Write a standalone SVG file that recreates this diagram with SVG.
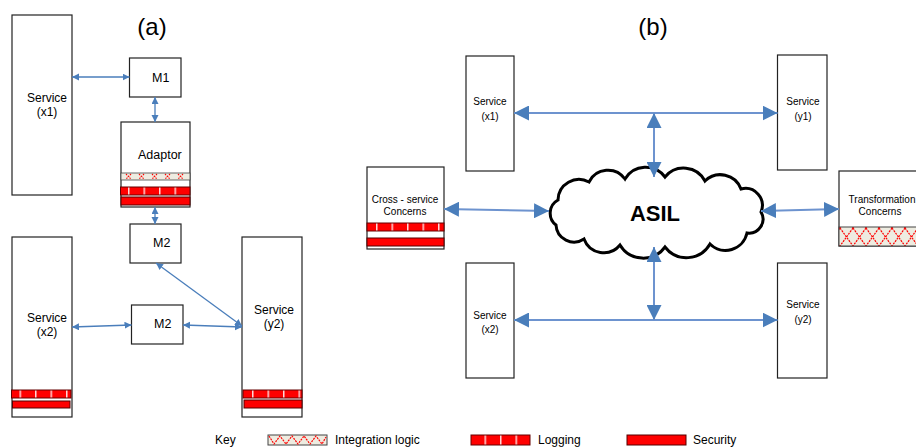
<svg xmlns="http://www.w3.org/2000/svg" width="916" height="448" viewBox="0 0 916 448">
<style>
text{font-family:"Liberation Sans",Arial,sans-serif;fill:#000}
.box{fill:#fff;stroke:#222;stroke-width:1.2}
.sa{font-size:12px;text-anchor:middle}
.sb{font-size:10px;text-anchor:middle}
.ca{stroke:#4a7ebb;stroke-width:1.3;fill:none;marker-start:url(#sm);marker-end:url(#sm)}
.cb{stroke:#6d93cf;stroke-width:2;fill:none;marker-start:url(#bm);marker-end:url(#bm)}
.log{fill:url(#logp);stroke:#600;stroke-width:1}
.sec{fill:#f00;stroke:#500;stroke-width:1}
</style>
<defs>
<marker id="sm" markerUnits="userSpaceOnUse" markerWidth="8" markerHeight="8" refX="7" refY="3.5" orient="auto-start-reverse"><path d="M0,0 L7,3.5 L0,7 z" fill="#4a7ebb"/></marker>
<marker id="bm" markerUnits="userSpaceOnUse" markerWidth="16" markerHeight="15" refX="15" refY="7.5" orient="auto-start-reverse"><path d="M0,0 L15,7.5 L0,15 z" fill="#4a7ebb"/></marker>
<pattern id="logp" patternUnits="userSpaceOnUse" width="15.5" height="10" x="4"><rect width="15.5" height="10" fill="#f00"/><rect x="0" width="1.5" height="10" fill="#ffd8d8"/></pattern>
<pattern id="intp" patternUnits="userSpaceOnUse" width="13" height="18" x="840" y="228"><rect width="13" height="18" fill="#eeece1"/><path d="M0,0 L13,18 M13,0 L0,18" stroke="#f00" stroke-width="1.2" stroke-dasharray="2 1"/></pattern>
<pattern id="ints" patternUnits="userSpaceOnUse" width="13" height="7" x="122" y="173"><rect width="13" height="7" fill="#eeece1"/><path d="M4,1 L9,6 M9,1 L4,6" stroke="#f00" stroke-width="1.1" stroke-dasharray="1.5 1"/></pattern>
</defs>

<!-- (a) -->
<text x="152" y="35" font-size="24" text-anchor="middle">(a)</text>
<g id="svc-x1-a"><rect class="box" x="12" y="15" width="60" height="180"/><text class="sa" x="47" y="102">Service</text><text class="sa" x="47" y="115.5">(x1)</text></g>
<g id="m1"><rect class="box" x="129.5" y="58" width="51.5" height="39"/><text x="152" y="82" font-size="12.5">M1</text></g>
<g id="adaptor"><rect class="box" x="121" y="122" width="69" height="85"/><text x="138" y="159" font-size="12.5">Adaptor</text>
<rect x="121" y="173" width="69" height="7" fill="url(#ints)" stroke="#444" stroke-width="0.8"/>
<rect class="log" x="120.5" y="187" width="69.5" height="8"/>
<rect class="sec" x="121" y="197" width="69" height="8"/></g>
<g id="m2-upper"><rect class="box" x="130" y="224" width="51" height="39"/><text x="153" y="247" font-size="12.5">M2</text></g>
<g id="m2-lower"><rect class="box" x="131.5" y="305" width="51.5" height="39"/><text x="154" y="328" font-size="12.5">M2</text></g>
<g id="svc-x2-a"><rect class="box" x="12" y="237" width="60" height="180"/><text class="sa" x="47" y="322">Service</text><text class="sa" x="47" y="335.5">(x2)</text>
<rect class="log" x="11.5" y="390" width="59.5" height="8"/><rect class="sec" x="12.5" y="401" width="57.5" height="7"/></g>
<g id="svc-y2-a"><rect class="box" x="242" y="237" width="60" height="180"/><text class="sa" x="274" y="314">Service</text><text class="sa" x="274" y="327.5">(y2)</text>
<rect class="log" x="243" y="390" width="59" height="8"/><rect class="sec" x="244" y="400" width="58" height="8"/></g>

<!-- (b) -->
<text x="653" y="35" font-size="24" text-anchor="middle">(b)</text>
<g id="svc-x1-b"><rect class="box" x="466" y="56" width="48" height="115"/><text class="sb" x="490" y="105">Service</text><text class="sb" x="490" y="120">(x1)</text></g>
<g id="svc-y1-b"><rect class="box" x="777.5" y="55" width="49.5" height="115"/><text class="sb" x="803" y="105">Service</text><text class="sb" x="803" y="120">(y1)</text></g>
<g id="svc-x2-b"><rect class="box" x="466" y="263" width="48" height="115"/><text class="sb" x="490" y="319">Service</text><text class="sb" x="490" y="333">(x2)</text></g>
<g id="svc-y2-b"><rect class="box" x="777.5" y="263" width="49.5" height="115"/><text class="sb" x="803" y="308">Service</text><text class="sb" x="803" y="323">(y2)</text></g>
<g id="cross"><rect class="box" x="367" y="167" width="77" height="82"/><text class="sb" x="405" y="203">Cross - service</text><text class="sb" x="405" y="215">Concerns</text>
<rect class="log" x="367" y="223" width="77" height="8"/><rect class="sec" x="367" y="238" width="77" height="8"/></g>
<g id="transform"><rect class="box" x="839" y="171" width="80" height="75"/><text class="sb" x="882" y="202.5">Transformation</text><text class="sb" x="880" y="214.5">Concerns</text>
<rect x="839" y="227" width="80" height="19" fill="url(#intp)" stroke="#444" stroke-width="1"/></g>
<g id="asil"><path d="M558,200 A21,21 0 0 1 589,182 A21,21 0 0 1 625,179 A24,24 0 0 1 665,177 A24,24 0 0 1 705,181 A22,22 0 0 1 741,189 A17,17 0 0 1 761,212 A14,14 0 0 1 747,233 A22,22 0 0 1 710,244 A27,27 0 0 1 665,247 A27,27 0 0 1 620,245 A21,21 0 0 1 584,239 A18,18 0 0 1 556,225 A15,15 0 0 1 558,200 z" fill="#fff" stroke="#000" stroke-width="3"/>
<text x="655" y="221" font-size="22" font-weight="bold" text-anchor="middle">ASIL</text></g>

<g id="connectors">
<line class="ca" x1="72" y1="77" x2="129.5" y2="77"/>
<line class="ca" x1="155" y1="97" x2="155" y2="122"/>
<line class="ca" x1="155" y1="207" x2="155" y2="224"/>
<line class="ca" x1="72" y1="327" x2="131.5" y2="325"/>
<line class="ca" x1="183" y1="325" x2="242" y2="327"/>
<line class="ca" x1="156" y1="263" x2="242" y2="326"/>
<line class="cb" x1="514" y1="113" x2="777.5" y2="113"/>
<line class="cb" x1="654" y1="113" x2="654" y2="177"/>
<line class="cb" x1="514" y1="320" x2="777.5" y2="320"/>
<line class="cb" x1="654" y1="247" x2="654" y2="320"/>
<line class="cb" x1="444" y1="209" x2="549" y2="211"/>
<line class="cb" x1="761" y1="211" x2="839" y2="209"/>
</g>

<g id="key">
<text x="215" y="444" font-size="12">Key</text>
<rect x="268" y="435" width="59" height="10" fill="#eeece1" stroke="#444" stroke-width="1"/>
<path d="M269,436 L274,444 L280,436 L286,444 L292,436 L298,444 L304,436 L310,444 L316,436 L322,444 L326,437" fill="none" stroke="#f00" stroke-width="1.2" stroke-dasharray="2 1"/>
<text x="335" y="444" font-size="12">Integration logic</text>
<rect class="log" x="471" y="435" width="59" height="10"/>
<text x="538" y="444" font-size="12">Logging</text>
<rect class="sec" x="627" y="435" width="59" height="10"/>
<text x="693" y="444" font-size="12">Security</text>
</g>
</svg>
